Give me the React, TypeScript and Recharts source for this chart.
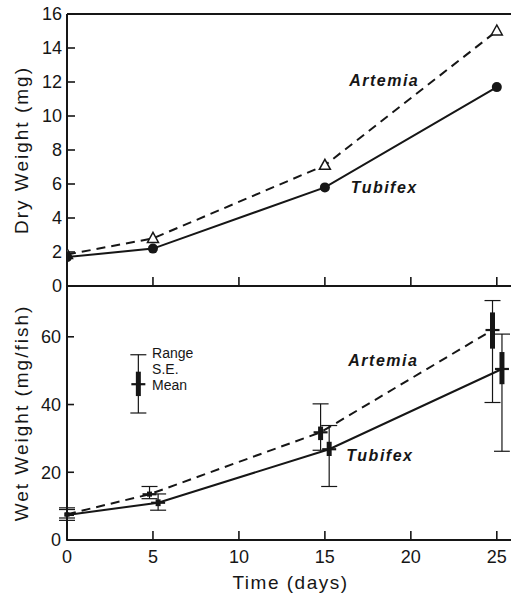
import React from 'react';
import { LineChart, Line, XAxis, YAxis, ErrorBar, ReferenceLine, ReferenceDot } from 'recharts';

// ---- Data ----
const dryDays = [0, 5, 15, 25];
const dryTubifex = [1.7, 2.2, 5.8, 11.7];
const dryArtemia = [1.85, 2.8, 7.1, 15.0];

const wetArtemiaDays = [0, 4.8, 14.75, 24.75];
const wetArtemiaMean = [7.6, 13.5, 31.8, 62];
const wetArtemiaSELow = [7.0, 12.8, 29.5, 56.5];
const wetArtemiaSEHigh = [8.2, 14.3, 33.5, 67.2];
const wetArtemiaRangeLow = [6.5, 12.2, 26.5, 40.6];
const wetArtemiaRangeHigh = [9.5, 15.8, 40.2, 70.7];

const wetTubifexDays = [0, 5.3, 15.25, 25.3];
const wetTubifexMean = [7.4, 11, 26.8, 50.5];
const wetTubifexSELow = [6.9, 10, 24.8, 46];
const wetTubifexSEHigh = [8.0, 12, 29, 55.5];
const wetTubifexRangeLow = [5.8, 8.8, 15.8, 26.2];
const wetTubifexRangeHigh = [9.0, 13.6, 33.8, 60.8];

const keyDay = [4.15];
const keyMean = [46];
const keySELow = [42.5];
const keySEHigh = [49.7];
const keyRangeLow = [37.5];
const keyRangeHigh = [54.7];

const xTicks = [0, 5, 10, 15, 20, 25];
const dryTicks = [0, 2, 4, 6, 8, 10, 12, 14, 16];
const wetTicks = [0, 20, 40, 60];

// ---- Build tables ----
const dryTubifexData = dryDays.map((x, i) => ({ x, y: dryTubifex[i] }));
const dryArtemiaData = dryDays.map((x, i) => ({ x, y: dryArtemia[i] }));

const mk = (xs: number[], m: number[], sl: number[], sh: number[], rl: number[], rh: number[]) =>
  xs.map((x, i) => ({ x, y: m[i], se: [m[i] - sl[i], sh[i] - m[i]], range: [m[i] - rl[i], rh[i] - m[i]] }));

const wetArtemiaData = mk(wetArtemiaDays, wetArtemiaMean, wetArtemiaSELow, wetArtemiaSEHigh, wetArtemiaRangeLow, wetArtemiaRangeHigh);
const wetTubifexData = mk(wetTubifexDays, wetTubifexMean, wetTubifexSELow, wetTubifexSEHigh, wetTubifexRangeLow, wetTubifexRangeHigh);
const keyData = mk(keyDay, keyMean, keySELow, keySEHigh, keyRangeLow, keyRangeHigh);

const FONT = '"Liberation Sans", Arial, sans-serif';
const INK = '#161616';

const LeftTick = (props: any) => {
  const { x, y, payload } = props;
  return (
    <g>
      <line x1={x + 5} x2={x + 13} y1={y} y2={y} stroke={INK} strokeWidth={1.6} />
      <text x={x} y={y} dy="0.36em" textAnchor="end" fontSize={18} fill={INK} fontFamily={FONT}>
        {payload.value}
      </text>
    </g>
  );
};

const RightTick = (props: any) => {
  const { x, y } = props;
  return <line x1={x - 8} x2={x} y1={y} y2={y} stroke={INK} strokeWidth={1.6} />;
};

const TopPanelXTick = (props: any) => {
  const { x, y, payload } = props;
  if (payload.value === 0) return <g />;
  return <line x1={x} x2={x} y1={y} y2={y - 9} stroke={INK} strokeWidth={1.6} />;
};

const BottomXTick = (props: any) => {
  const { x, y, payload } = props;
  return (
    <g>
      {payload.value !== 0 && <line x1={x} x2={x} y1={y - 10} y2={y - 19} stroke={INK} strokeWidth={1.6} />}
      <text x={x} y={y} dy="0.71em" textAnchor="middle" fontSize={18} fill={INK} fontFamily={FONT}>
        {payload.value}
      </text>
    </g>
  );
};

const CircleDot = (props: any) => {
  const { cx, cy } = props;
  if (cx == null || cy == null) return <g />;
  return <circle cx={cx} cy={cy} r={5} fill={INK} />;
};

const TriangleDot = (props: any) => {
  const { cx, cy } = props;
  if (cx == null || cy == null) return <g />;
  return (
    <polygon
      points={`${cx},${cy - 6} ${cx - 5.5},${cy + 4} ${cx + 5.5},${cy + 4}`}
      fill="#fff"
      stroke={INK}
      strokeWidth={1.5}
    />
  );
};

const MeanDot = (props: any) => {
  const { cx, cy } = props;
  if (cx == null || cy == null) return <g />;
  return <line x1={cx - 7} x2={cx + 7} y1={cy} y2={cy} stroke={INK} strokeWidth={2.2} />;
};

const annStyle = { fill: INK, fontSize: 16, fontStyle: 'italic', fontWeight: 'bold', fontFamily: FONT, letterSpacing: 1.5 } as any;
const keyStyle = { fill: INK, fontSize: 14, fontFamily: FONT } as any;
const yTitleStyle = { fontSize: 19, fill: INK, fontFamily: FONT, letterSpacing: 2 } as any;

export default function App() {
  return (
    <div style={{ position: 'fixed', left: 0, top: 0, width: 511, height: 594, overflow: 'hidden', background: '#fff' }}>
      <div style={{ position: 'absolute', left: 0, top: 0 }}>
        <LineChart width={520} height={300} margin={{ top: 14, right: 0, bottom: 0, left: 0 }}>
          <XAxis
            dataKey="x"
            type="number"
            domain={[0, 26]}
            ticks={xTicks}
            height={14}
            tickSize={0}
            tickMargin={0}
            tickLine={false}
            tick={<TopPanelXTick />}
            axisLine={{ stroke: INK, strokeWidth: 2 }}
            allowDataOverflow
          />
          <YAxis
            type="number"
            domain={[0, 16]}
            ticks={dryTicks}
            width={67}
            tickSize={0}
            tickMargin={5}
            tickLine={false}
            tick={<LeftTick />}
            axisLine={{ stroke: INK, strokeWidth: 2 }}
            label={{ value: 'Dry Weight (mg)', angle: -90, position: 'insideLeft', offset: 21, style: { textAnchor: 'middle' }, ...yTitleStyle }}
          />
          <YAxis
            yAxisId="r"
            orientation="right"
            type="number"
            domain={[0, 16]}
            ticks={dryTicks.slice(1, -1)}
            width={6}
            tickSize={0}
            tickMargin={0}
            tickLine={false}
            tick={<RightTick />}
            axisLine={{ stroke: INK, strokeWidth: 2 }}
          />
          <ReferenceLine y={16} stroke={INK} strokeWidth={2} />
          <Line
            data={dryArtemiaData}
            dataKey="y"
            stroke={INK}
            strokeWidth={2}
            strokeDasharray="9 6"
            dot={<TriangleDot />}
            isAnimationActive={false}
          />
          <Line
            data={dryTubifexData}
            dataKey="y"
            stroke={INK}
            strokeWidth={2}
            dot={<CircleDot />}
            isAnimationActive={false}
          />
          <ReferenceDot x={18.45} y={12.1} r={0} stroke="none" label={{ value: 'Artemia', position: 'center', ...annStyle }} />
          <ReferenceDot x={18.45} y={5.8} r={0} stroke="none" label={{ value: 'Tubifex', position: 'center', ...annStyle }} />
        </LineChart>
      </div>
      <div style={{ position: 'absolute', left: 0, top: 276 }}>
        <LineChart width={520} height={324} margin={{ top: 10, right: 0, bottom: 0, left: 0 }}>
          <XAxis
            dataKey="x"
            type="number"
            domain={[0, 26]}
            ticks={xTicks}
            height={60}
            tickSize={0}
            tickMargin={10}
            tickLine={false}
            tick={<BottomXTick />}
            axisLine={{ stroke: INK, strokeWidth: 2 }}
            allowDataOverflow
            label={{ value: 'Time (days)', position: 'insideBottom', offset: 11, fontSize: 19, fill: INK, fontFamily: FONT, letterSpacing: 1.5 }}
          />
          <YAxis
            type="number"
            domain={[0, 75]}
            ticks={wetTicks}
            width={67}
            tickSize={0}
            tickMargin={6}
            tickLine={false}
            tick={<LeftTick />}
            axisLine={{ stroke: INK, strokeWidth: 2 }}
            label={{ value: 'Wet Weight (mg/fish)', angle: -90, position: 'insideLeft', offset: 21, style: { textAnchor: 'middle' }, ...yTitleStyle }}
          />
          <YAxis
            yAxisId="r"
            orientation="right"
            type="number"
            domain={[0, 75]}
            ticks={wetTicks.slice(1)}
            width={6}
            tickSize={0}
            tickMargin={0}
            tickLine={false}
            tick={<RightTick />}
            axisLine={{ stroke: INK, strokeWidth: 2 }}
          />
          <Line
            data={wetArtemiaData}
            dataKey="y"
            stroke={INK}
            strokeWidth={2}
            strokeDasharray="9 6"
            dot={<MeanDot />}
            isAnimationActive={false}
          >
            <ErrorBar dataKey="range" width={8} stroke={INK} strokeWidth={1.2} direction="y" />
            <ErrorBar dataKey="se" width={0} stroke={INK} strokeWidth={5} direction="y" />
          </Line>
          <Line
            data={wetTubifexData}
            dataKey="y"
            stroke={INK}
            strokeWidth={2}
            dot={<MeanDot />}
            isAnimationActive={false}
          >
            <ErrorBar dataKey="range" width={8} stroke={INK} strokeWidth={1.2} direction="y" />
            <ErrorBar dataKey="se" width={0} stroke={INK} strokeWidth={5} direction="y" />
          </Line>
          <Line
            data={keyData}
            dataKey="y"
            stroke="none"
            dot={<MeanDot />}
            isAnimationActive={false}
          >
            <ErrorBar dataKey="range" width={8} stroke={INK} strokeWidth={1.2} direction="y" />
            <ErrorBar dataKey="se" width={0} stroke={INK} strokeWidth={5} direction="y" />
          </Line>
          <ReferenceDot x={4.95} y={55.3} r={0} stroke="none" label={{ value: 'Range', position: 'right', offset: 0, ...keyStyle }} />
          <ReferenceDot x={4.95} y={50.5} r={0} stroke="none" label={{ value: 'S.E.', position: 'right', offset: 0, ...keyStyle }} />
          <ReferenceDot x={4.95} y={45.7} r={0} stroke="none" label={{ value: 'Mean', position: 'right', offset: 0, ...keyStyle }} />
          <ReferenceDot x={18.4} y={53} r={0} stroke="none" label={{ value: 'Artemia', position: 'center', ...annStyle }} />
          <ReferenceDot x={18.2} y={25.1} r={0} stroke="none" label={{ value: 'Tubifex', position: 'center', ...annStyle }} />
        </LineChart>
      </div>
    </div>
  );
}
